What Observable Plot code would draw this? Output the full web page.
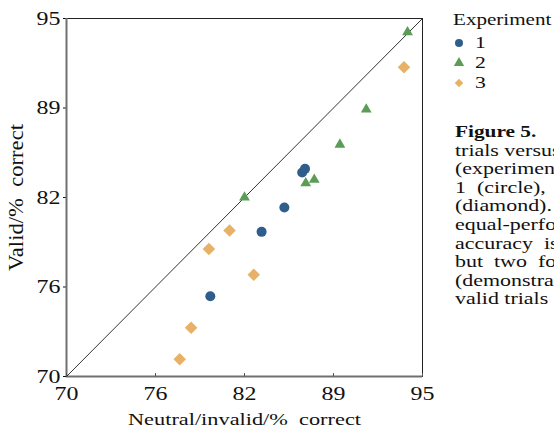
<!DOCTYPE html>
<html><head><meta charset="utf-8">
<script src="https://cdn.jsdelivr.net/npm/d3@7"></script>
<script src="https://cdn.jsdelivr.net/npm/@observablehq/plot@0.6"></script>
<style>
html,body{margin:0;padding:0;background:#fff;overflow:hidden;width:554px;height:433px;}
body{position:relative;font-family:"Liberation Serif","Times New Roman",serif;color:#111;}
#chart{position:absolute;left:0;top:0;}
#legend{position:absolute;left:440px;top:0;}
#caption{position:absolute;left:455px;top:123px;transform:scaleX(1.27);transform-origin:0 0;font-size:17.3px;line-height:18.6px;white-space:pre;}
#caption b{font-weight:bold;font-size:16.8px;}
</style></head><body>
<div id="chart"></div><div id="legend"></div><div id="caption"></div>
<script>
// ---- data ----
const experiments = ["1", "2", "3"];
const exp1X = [80.1, 83.7, 85.3, 86.55, 86.75];
const exp1Y = [75.6, 80.1, 81.8, 84.25, 84.5];
const exp2X = [82.5, 86.8, 87.4, 89.2, 91.05, 93.95];
const exp2Y = [82.5, 83.5, 83.75, 86.2, 88.65, 94.05];
const exp3X = [77.95, 78.75, 80.0, 81.45, 83.15, 93.7];
const exp3Y = [71.2, 73.4, 78.9, 80.2, 77.1, 91.6];
const axisDomain = [70, 95];
const tickValues = [70, 76.25, 82.5, 88.75, 95];
const tickLabels = ["70", "76", "82", "89", "95"];
const colors = ["#2f5d8c", "#5b9c57", "#e8b266"];
const xLabel = "Neutral/invalid/%\u00a0 correct";
const yLabel = "Valid/%\u00a0 correct";
const legendTitle = "Experiment";
const captionTitle = "Figure 5.";
const captionLines = ["trials versus", "(experiment", "1  (circle),  2", "(diamond).", "equal-performance", "accuracy  is", "but  two  for", "(demonstrating", "valid trials"];

// ---- tables ----
const rows = (xs, ys, e) => xs.map((x, i) => ({x, y: ys[i], experiment: e}));
const d1 = rows(exp1X, exp1Y, experiments[0]);
const d2 = rows(exp2X, exp2Y, experiments[1]);
const d3r = rows(exp3X, exp3Y, experiments[2]);

const diamond = {draw(ctx, size) { const r = Math.sqrt(size / 2); ctx.moveTo(0, -r); ctx.lineTo(r, 0); ctx.lineTo(0, r); ctx.lineTo(-r, 0); ctx.closePath(); }};
const tickMark = {draw(ctx, size) { ctx.moveTo(0, 0); ctx.lineTo(0, -3.5); }};
const fmt = d => tickLabels[tickValues.indexOf(d)];

const W = 445, H = 433;
const plot = Plot.plot({
  width: W, height: H,
  marginLeft: 66, marginRight: W - 422, marginTop: 18, marginBottom: H - 376,
  style: {fontFamily: "Liberation Serif, Times New Roman, serif", fontSize: "19px", color: "#111", background: "transparent", overflow: "visible"},
  x: {domain: axisDomain, ticks: tickValues, tickFormat: fmt, tickSize: 0, tickPadding: 9.5, label: xLabel, labelAnchor: "center", labelOffset: 48, labelArrow: "none"},
  y: {domain: axisDomain, ticks: tickValues, tickFormat: fmt, tickSize: 3, tickPadding: 3, label: yLabel, labelAnchor: "center", labelOffset: 58, labelArrow: "none"},
  marks: [
    Plot.frame({stroke: "#222", strokeWidth: 1}),
    Plot.ruleX([axisDomain[0]], {stroke: "#707070", strokeWidth: 2}),
    Plot.ruleY([axisDomain[0]], {stroke: "#707070", strokeWidth: 2}),
    Plot.dot(tickValues, {x: d => d, y: () => axisDomain[0], symbol: tickMark, stroke: "#555", fill: "none", strokeWidth: 1}),
    Plot.line(axisDomain, {x: d => d, y: d => d, stroke: "#333", strokeWidth: 1}),
    Plot.dot(d3r, {x: "x", y: "y", symbol: diamond, r: 5, fill: colors[2]}),
    Plot.dot(d2, {x: "x", y: "y", symbol: "triangle", r: 4, fill: colors[1]}),
    Plot.dot(d1, {x: "x", y: "y", symbol: "circle", r: 5, fill: colors[0]})
  ]
});
document.getElementById("chart").appendChild(plot);

// horizontal stretch of text as in the reference
const STRETCH = 1.26;
d3.select(plot).selectAll("text").each(function() {
  const t = this.textContent;
  if (t === yLabel) { this.setAttribute("font-size", 21); this.style.fontSize = "21px"; this.setAttribute("textLength", 147); this.setAttribute("lengthAdjust", "spacingAndGlyphs"); return; }
  if (t === xLabel) { this.setAttribute("font-size", 17); this.style.fontSize = "17px"; this.setAttribute("textLength", 233); this.setAttribute("lengthAdjust", "spacingAndGlyphs"); return; }
  const len = this.getComputedTextLength();
  if (len > 0) { this.setAttribute("textLength", len * STRETCH); this.setAttribute("lengthAdjust", "spacingAndGlyphs"); }
});

// ---- legend ----
const leg = d3.select("#legend").append("svg").attr("width", 114).attr("height", 100)
  .style("font-family", "Liberation Serif, Times New Roman, serif").style("overflow", "visible");
leg.append("text").attr("x", 13).attr("y", 25).attr("font-size", 17).attr("fill", "#111").text(legendTitle);
const legSyms = [d3.symbolCircle, d3.symbolTriangle, diamond];
const legSizes = [Math.PI * 16, 46, 36];
experiments.forEach((e, i) => {
  leg.append("path").attr("transform", `translate(19,${43 + i * 20})`)
    .attr("d", d3.symbol(legSyms[i], legSizes[i])()).attr("fill", colors[i]);
  leg.append("text").attr("x", 35).attr("y", 48 + i * 20).attr("font-size", 17.5).attr("fill", "#111").text(e);
});
leg.selectAll("text").each(function() {
  const len = this.getComputedTextLength();
  this.setAttribute("textLength", len * 1.24); this.setAttribute("lengthAdjust", "spacingAndGlyphs");
});

// ---- caption ----
const cap = d3.select("#caption");
cap.append("div").append("b").text(captionTitle);
captionLines.forEach(l => cap.append("div").text(l));
</script>
</body></html>
